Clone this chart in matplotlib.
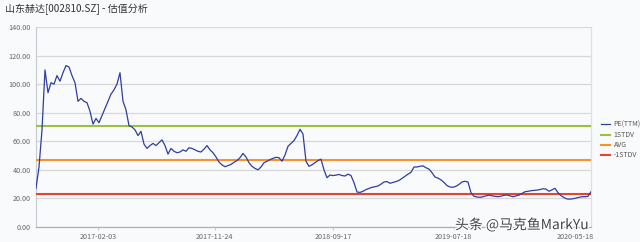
import matplotlib
matplotlib.use("Agg")
import matplotlib.pyplot as plt
import matplotlib.patheffects as pe
import pandas as pd

plt.rcParams['font.family'] = ['Noto Sans CJK SC', 'DejaVu Sans']

title = "山东赫达[002810.SZ] - 估值分析"
start_date = "2016-08-31"
end_date = "2020-06-27"

pe_values = [
    27, 42, 68, 110, 94, 101, 100, 106, 102, 108,
    113, 112, 106, 101, 88, 90, 88, 87, 81, 72,
    76, 73, 78, 83, 88, 93, 96, 100, 108, 88,
    82, 71, 70, 68, 64, 67, 58, 55, 57, 58.5,
    57, 59, 61, 57, 51, 55, 53, 52, 52.5, 54,
    53, 55.5, 55, 54, 53, 52.5, 54.5, 57, 54, 52,
    49, 45.5, 43.5, 42.2, 43, 43.8, 45.3, 46.5, 48.5, 51.5,
    49, 45, 42.5, 41, 40, 42, 45, 46, 47.2, 48,
    48.8, 48.5, 46, 50.4, 56.5, 58.5, 60.5, 64, 68.4, 65,
    46, 42.5, 43.5, 45, 46.5, 47.5, 40, 34.5, 36.4, 36,
    36.3, 36.8, 36, 35.7, 37, 36, 31, 24.5, 24.2, 25,
    26.2, 27, 27.8, 28.2, 28.7, 30, 31.5, 31.8, 30.6, 31.2,
    31.8, 32.6, 34, 35.5, 37, 38.3, 42, 42, 42.5, 42.8,
    41.5, 40.5, 38, 35, 34.2, 33, 31.2, 29, 28, 27.8,
    28.5, 29.8, 31.5, 32, 31.5, 24, 21.5, 21, 20.8, 21.2,
    21.8, 22.3, 21.8, 21.5, 21.2, 21.6, 22.2, 22.4, 21.8, 21.2,
    21.8, 22.3, 23.5, 24.7, 25, 25.4, 25.6, 25.8, 26.2, 26.8,
    26.5, 25, 26, 27.1, 24, 22, 20.6, 19.6, 19.5, 19.8,
    20.2, 20.8, 21.2, 21.2, 21.5, 24.7,
]
stdv_plus = 70.7
avg = 46.9
stdv_minus = 23.1

tick_dates = ["2017-02-03", "2017-11-24", "2018-09-17", "2019-07-18", "2020-05-18"]
y_ticks = [0, 20, 40, 60, 80, 100, 120, 140]
legend_labels = ["PE(TTM)", "1STDV", "AVG", "-1STDV"]

dates = pd.date_range(start_date, end_date, periods=len(pe_values))

bg = "#f9fafc"
fig = plt.figure(figsize=(6.4, 2.42), dpi=100, facecolor=bg)
ax = fig.add_axes([36/640, 15/242, 555/640, 200/242], facecolor=bg)

l1, = ax.plot(dates, pe_values, color="#2e3f9c", lw=0.9, zorder=4)
l2 = ax.axhline(stdv_plus, color="#9bc23c", lw=1.5, zorder=3)
l3 = ax.axhline(avg, color="#f7922f", lw=1.5, zorder=3)
l4 = ax.axhline(stdv_minus, color="#e9432f", lw=1.5, zorder=3)

ax.set_xlim(pd.Timestamp(start_date), pd.Timestamp(end_date))
ax.set_ylim(0, 140)
ax.set_yticks(y_ticks)
ax.set_yticklabels([f"{v:.2f}" for v in y_ticks])
ax.set_xticks([pd.Timestamp(d) for d in tick_dates])
ax.set_xticklabels(tick_dates)
ax.grid(axis='y', color="#d8d8d8", lw=0.9)
ax.set_axisbelow(True)
ax.tick_params(axis='y', length=0, labelsize=5.2, labelcolor="#666666", pad=4)
ax.tick_params(axis='x', length=2, color="#cccccc", labelsize=5.2, labelcolor="#666666", pad=2)
ax.spines["top"].set_visible(False)
ax.spines["left"].set_color("#c8ccd4")
ax.spines["bottom"].set_color("#aab0bb")
ax.spines["right"].set_color("#dde0e6")
for s in ["left", "bottom", "right"]:
    ax.spines[s].set_linewidth(0.9)

fig.text(5/640, 1 - 9/242, title, fontsize=7.2, color="#333333", va="center", ha="left")

fig.legend([l1, l2, l3, l4], legend_labels, loc="center left",
           bbox_to_anchor=(595/640, 1 - 140/242), frameon=False,
           fontsize=5, labelcolor="#555555", handlelength=1.3,
           handletextpad=0.5, labelspacing=0.3)

fig.text(455/640, 1 - 225/242, "头条 @马克鱼MarkYu", fontsize=10, color="#444444",
         va="center", ha="left",
         path_effects=[pe.withStroke(linewidth=2, foreground="white")])

fig.savefig("out.png", dpi=100, facecolor=bg)
